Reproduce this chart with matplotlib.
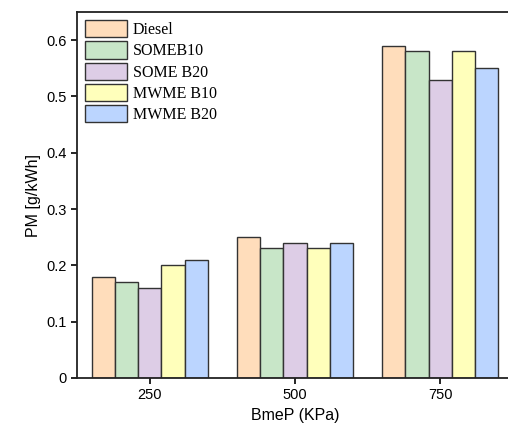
import numpy as np
import matplotlib
matplotlib.use('Agg')
import matplotlib.pyplot as plt

loads = ['250', '500', '750']
fuels = ['Diesel', 'SOMEB10', 'SOME B20', 'MWME B10', 'MWME B20']
diesel = [0.18, 0.25, 0.59]
someb10 = [0.17, 0.23, 0.58]
someb20 = [0.16, 0.24, 0.53]
mwmeb10 = [0.20, 0.23, 0.58]
mwmeb20 = [0.21, 0.24, 0.55]
colors = ['#FFDDBB', '#C8E6C8', '#DDCDE6', '#FFFFBB', '#BBD5FF']

plt.rcParams['font.family'] = 'Liberation Sans'

fig = plt.figure(figsize=(5.08, 4.3), dpi=100)
# right edge of the axes runs past the figure, as in the original
ax = fig.add_axes([0.1516, 0.121, 0.858, 0.851])

x = np.arange(len(loads))
w = 0.16
series = [diesel, someb10, someb20, mwmeb10, mwmeb20]
for i, vals in enumerate(series):
    ax.bar(x + (i - 2) * w, vals, w, color=colors[i], edgecolor='#333333',
           linewidth=1.0, label=fuels[i])

ax.set_xlim(-0.5, 2.5)
ax.set_ylim(0, 0.65)
ax.set_xticks(x)
ax.set_xticklabels(loads)
ax.set_yticks([0, 0.1, 0.2, 0.3, 0.4, 0.5, 0.6])
ax.set_yticklabels(['0', '0.1', '0.2', '0.3', '0.4', '0.5', '0.6'])
ax.tick_params(labelsize=10.5, direction='out', length=4, width=1.2)
for s in ax.spines.values():
    s.set_linewidth(1.3)
    s.set_color('#222222')
ax.spines['right'].set_visible(False)
ax.set_xlabel('BmeP (KPa)', fontsize=11.5)
ax.set_ylabel('PM [g/kWh]', fontsize=11.5)

ax.legend(loc='upper left', frameon=False, prop={'family': 'Liberation Serif', 'size': 11.5},
          handlelength=2.6, handleheight=1.3, labelspacing=0.2, handletextpad=0.4,
          borderaxespad=0.3, borderpad=0.2)

fig.savefig('out.png', dpi=100)
